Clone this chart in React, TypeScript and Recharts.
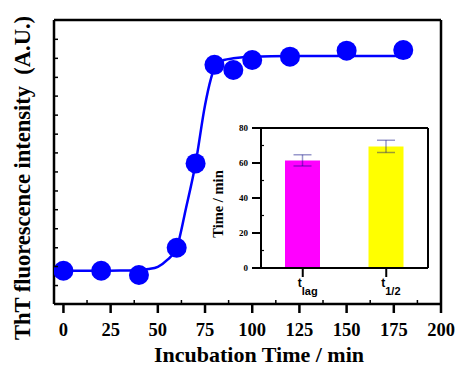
import React from "react";
import {
  ComposedChart, BarChart, Bar, Line, Scatter, XAxis, YAxis, Label, ErrorBar, Cell,
} from "recharts";

const pointTimes = [0, 20, 40, 60, 70, 80, 90, 100, 120, 150, 180];
const pointIntensity = [11.7, 11.7, 10.2, 19.8, 49.5, 84.2, 82.4, 85.9, 87.1, 89.2, 89.4];

// fitted sigmoid
const curveTimes = [0, 10, 20, 30, 40, 45, 50, 55, 60, 65, 70, 75, 78, 80, 85, 90, 100, 120, 150, 180];
const curveIntensity = [11.7, 11.7, 11.7, 11.8, 12.0, 12.3, 13.1, 15.5, 19.8, 34.0, 49.5, 70.0, 79.0, 83.1, 85.9, 86.5, 87.1, 87.3, 87.3, 87.3];

const xTicks = [0, 25, 50, 75, 100, 125, 150, 175, 200];
const xMinorTicks = [12.5, 37.5, 62.5, 87.5, 112.5, 137.5, 162.5, 187.5];
const yMinorTicks = [6.5, 13.2, 19.8, 26.5, 33.2, 39.8, 46.5, 53.2, 59.8, 66.5, 73.2, 79.8, 86.5, 93.2];

const insetNames = ["lag", "1/2"];
const insetValues = [61.5, 69.5];
const insetErrors = [3.2, 3.5];
const insetColors = ["#ff00ff", "#ffff00"];
const insetTicks = [0, 20, 40, 60, 80];
const insetMinorTicks = [10, 30, 50, 70];

const points = pointTimes.map((x, i) => ({ x, y: pointIntensity[i] }));
const curve = curveTimes.map((x, i) => ({ x, y: curveIntensity[i] }));
const insetData = insetNames.map((name, i) => ({ name, value: insetValues[i], err: insetErrors[i] }));

const SERIF = "'Liberation Serif', 'Times New Roman', serif";
const SANS = "'Liberation Sans', Arial, sans-serif";
const BLUE = "#0000ff";

function MainXTick(props: any) {
  const { x, y, payload } = props;
  if (xMinorTicks.includes(payload.value)) {
    return <line x1={x} x2={x} y1={y} y2={y - 4} stroke="#000" strokeWidth={1.5} />;
  }
  return (
    <g>
      <line x1={x} x2={x} y1={y} y2={y + 9} stroke="#000" strokeWidth={2.5} />
      <text x={x} y={y + 32} textAnchor="middle" fontFamily={SERIF} fontWeight="bold" fontSize={18.5} fill="#000">
        {payload.value}
      </text>
    </g>
  );
}

function MainYTick(props: any) {
  const { x, y } = props;
  return <line x1={x} x2={x + 4} y1={y} y2={y} stroke="#000" strokeWidth={1.5} />;
}

function InsetYTick(props: any) {
  const { x, y, payload } = props;
  if (insetMinorTicks.includes(payload.value)) {
    return <line x1={x} x2={x + 3} y1={y} y2={y} stroke="#000" strokeWidth={1.2} />;
  }
  return (
    <g>
      <line x1={x - 9} x2={x} y1={y} y2={y} stroke="#000" strokeWidth={2} />
      <text x={x - 13} y={y + 3} textAnchor="end" fontFamily={SERIF} fontWeight="bold" fontSize={9} fill="#000">
        {payload.value}
      </text>
    </g>
  );
}

function InsetXTick(props: any) {
  const { x, y, payload } = props;
  return (
    <g>
      <line x1={x} x2={x} y1={y} y2={y + 9} stroke="#000" strokeWidth={2} />
      <text x={x - 5} y={y + 19} fontFamily={SANS} fontWeight="bold" fontSize={12} fill="#000">
        t
        <tspan dy={8} fontSize={11}>{payload.value}</tspan>
      </text>
    </g>
  );
}

function Inset() {
  return (
    <div style={{ position: "absolute", left: 200, top: 110 }}>
      <BarChart width={240} height={200} data={insetData} margin={{ top: 17, right: 11, bottom: 0, left: 0 }} barSize={35}>
        <XAxis dataKey="name" height={42} tickSize={0} tickMargin={0} tickLine={false} tick={<InsetXTick />}
          axisLine={{ stroke: "#000", strokeWidth: 2 }} interval={0} />
        <XAxis xAxisId="top" orientation="top" dataKey="name" height={1} tick={false} tickLine={false}
          axisLine={{ stroke: "#000", strokeWidth: 2 }} />
        <YAxis width={61} domain={[0, 80]} ticks={[...insetTicks, ...insetMinorTicks]} interval={0}
          tickSize={0} tickMargin={0} tickLine={false} tick={<InsetYTick />} axisLine={{ stroke: "#000", strokeWidth: 2 }}>
          <Label content={() => (
            <text x={23} y={94} transform="rotate(-90 23 94)" textAnchor="middle" fontFamily={SERIF}
              fontWeight="bold" fontSize={14.5} fill="#000">Time / min</text>
          )} />
        </YAxis>
        <YAxis yAxisId="r" orientation="right" width={1} domain={[0, 80]} tick={false} tickLine={false}
          axisLine={{ stroke: "#000", strokeWidth: 2 }} />
        <Bar dataKey="value" isAnimationActive={false}>
          {insetData.map((d, i) => <Cell key={d.name} fill={insetColors[i]} />)}
          <ErrorBar dataKey="err" width={9} stroke="#000080" strokeOpacity={0.4} strokeWidth={1.5} />
        </Bar>
      </BarChart>
    </div>
  );
}

export default function App() {
  return (
    <div style={{ position: "relative", width: 457, height: 366, background: "#fff" }}>
      <style>{`body{margin:0}`}</style>
      <ComposedChart width={457} height={366} margin={{ top: 19, right: 15, bottom: 0, left: 0 }}>
        <XAxis dataKey="x" type="number" domain={[-5, 200]} ticks={[...xTicks, ...xMinorTicks]} interval={0}
          height={62} tickSize={0} tickMargin={0} tickLine={false} tick={<MainXTick />}
          axisLine={{ stroke: "#000", strokeWidth: 2.5 }} allowDataOverflow>
          <Label content={() => (
            <text x={259} y={362} textAnchor="middle" fontFamily={SERIF} fontWeight="bold" fontSize={22} fill="#000">
              Incubation Time / min
            </text>
          )} />
        </XAxis>
        <XAxis xAxisId="top" orientation="top" type="number" domain={[-5, 200]} height={1} tick={false}
          tickLine={false} axisLine={{ stroke: "#000", strokeWidth: 2.5 }} />
        <YAxis type="number" domain={[0, 100]} width={54} ticks={yMinorTicks} interval={0} tickSize={0}
          tickMargin={0} tickLine={false} tick={<MainYTick />} axisLine={{ stroke: "#000", strokeWidth: 2.5 }}>
          <Label content={() => (
            <text x={30} y={178} transform="rotate(-90 30 178)" textAnchor="middle" fontFamily={SERIF}
              fontWeight="bold" fontSize={22.5} fill="#000" style={{ whiteSpace: "pre" }}>
              {"ThT fluorescence intensity  (A.U.)"}
            </text>
          )} />
        </YAxis>
        <YAxis yAxisId="r" orientation="right" type="number" domain={[0, 100]} width={1} tick={false}
          tickLine={false} axisLine={{ stroke: "#000", strokeWidth: 2.5 }} />
        <Line data={curve} dataKey="y" type="monotone" stroke={BLUE} strokeWidth={2.5} dot={false}
          activeDot={false} isAnimationActive={false} />
        <Scatter data={points} dataKey="y" fill={BLUE} isAnimationActive={false}
          shape={(p: any) => <circle cx={p.cx} cy={p.cy} r={10} fill={BLUE} />} />
      </ComposedChart>
      <Inset />
    </div>
  );
}
